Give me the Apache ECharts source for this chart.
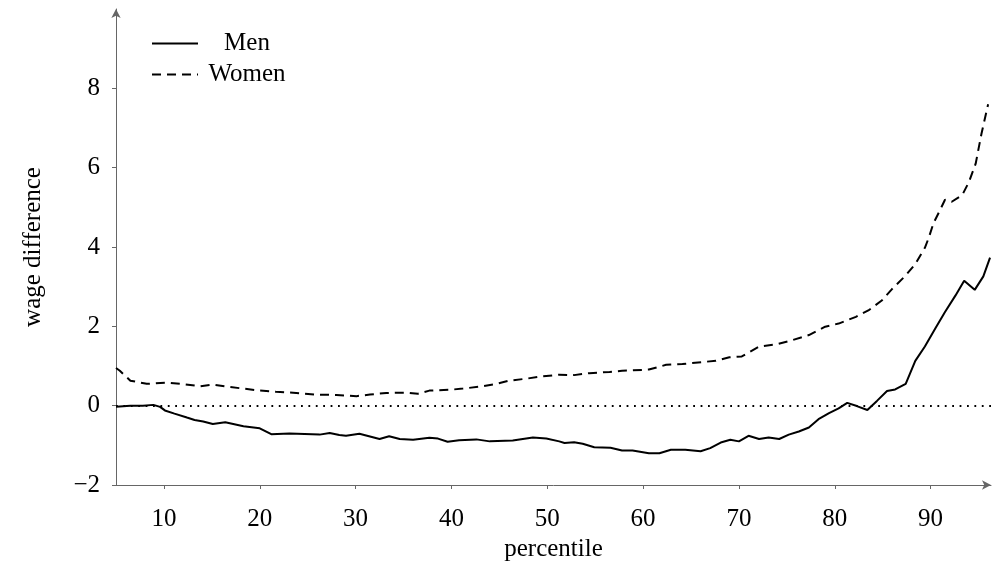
<!DOCTYPE html>
<html>
<head>
<meta charset="utf-8">
<script src="https://cdn.jsdelivr.net/npm/echarts@6/dist/echarts.min.js"></script>
<style>html,body{margin:0;padding:0;background:#fff}#c{width:992px;height:567px}</style>
</head>
<body>
<div id="c"></div>
<script>
// ---- data ----
const xTicks = [10, 20, 30, 40, 50, 60, 70, 80, 90];
const yTicks = [-2, 0, 2, 4, 6, 8];

const menX = [5.0, 6.5, 7.8, 8.9, 9.6, 10.1, 11.1, 12.4, 13.2, 14.1, 15.1, 16.4, 18.3, 20.0, 21.2, 23.1, 26.25, 27.3, 28.3, 29.0,
  30.4, 32.5, 33.5, 34.6, 36.0, 37.7, 38.6, 39.6, 40.8, 42.6, 44.0, 46.4, 48.5, 49.9, 51.25, 51.8, 52.8, 53.7, 54.9, 56.6,
  57.8, 58.9, 60.6, 61.7, 62.9, 64.4, 66.0, 67.0, 68.1, 69.1, 70.0, 71.0, 72.1, 73.1, 74.2, 75.2, 76.25, 77.3, 78.3, 79.4,
  80.4, 81.3, 82.3, 83.4, 84.4, 85.45, 86.3, 87.4, 88.4, 89.4, 90.5, 91.5, 92.6, 93.5, 94.6, 95.5, 96.2];
const menY = [-0.03, 0.0, 0.0, 0.02, -0.03, -0.12, -0.2, -0.3, -0.36, -0.4, -0.46, -0.42, -0.52, -0.57, -0.72, -0.70, -0.73, -0.69, -0.74, -0.76,
  -0.71, -0.84, -0.77, -0.84, -0.86, -0.81, -0.83, -0.91, -0.87, -0.85, -0.9, -0.88, -0.80, -0.83, -0.9, -0.94, -0.92, -0.96, -1.05, -1.06,
  -1.13, -1.13, -1.2, -1.2, -1.11, -1.11, -1.15, -1.07, -0.93, -0.86, -0.9, -0.76, -0.84, -0.8, -0.84, -0.73, -0.65, -0.55, -0.34, -0.19,
  -0.07, 0.07, -0.01, -0.11, 0.12, 0.37, 0.41, 0.55, 1.13, 1.49, 1.95, 2.36, 2.78, 3.15, 2.92, 3.26, 3.73];

const womenX = [5.0, 5.4, 6.5, 8.2, 10.4, 11.7, 13.75, 15.1, 16.5, 18.3, 20.0, 21.7, 23.8, 25.9, 28.0, 30.1, 31.5, 33.2, 35.3, 36.5,
  37.7, 39.8, 41.2, 43.3, 44.7, 46.0, 47.8, 49.5, 51.25, 52.8, 54.4, 56.5, 57.8, 60.6, 62.4, 64.1, 66.2, 67.6, 69.0, 70.3,
  72.1, 74.0, 75.55, 77.3, 79.0, 80.4, 82.2, 83.5, 84.9, 85.97, 87.35, 88.4, 89.4, 89.8, 90.3, 91.0, 91.5, 92.2, 93.3, 94.0,
  94.7, 95.3, 96.0];
const womenY = [0.95, 0.88, 0.63, 0.55, 0.58, 0.55, 0.49, 0.53, 0.48, 0.43, 0.38, 0.35, 0.32, 0.28, 0.27, 0.24, 0.28, 0.32, 0.33, 0.30,
  0.38, 0.40, 0.43, 0.49, 0.55, 0.63, 0.68, 0.74, 0.78, 0.77, 0.82, 0.85, 0.88, 0.91, 1.03, 1.05, 1.1, 1.13, 1.22, 1.24,
  1.49, 1.55, 1.65, 1.78, 1.99, 2.07, 2.24, 2.4, 2.65, 2.94, 3.27, 3.57, 3.98, 4.23, 4.6, 4.94, 5.19, 5.14, 5.31, 5.64,
  6.1, 6.85, 7.6];

const seriesNames = ['Men', 'Women'];
const xName = 'percentile';
const yName = 'wage difference';

// ---- chart ----
const FONT = 'Liberation Serif';
const FS = 25;
const axisColor = '#666';
const chart = echarts.init(document.getElementById('c'), null, {renderer: 'canvas'});
chart.setOption({
  animation: false,
  backgroundColor: '#fff',
  textStyle: {fontFamily: FONT},
  grid: {left: 116, right: 1, top: 9, bottom: 77, containLabel: false},
  legend: {
    orient: 'vertical', left: 146, top: 26, itemWidth: 46, itemHeight: 25, itemGap: 6,
    data: seriesNames,
    itemStyle: {opacity: 0},
    formatter: n => '{t|' + n + '}',
    textStyle: {fontFamily: FONT, fontSize: FS, color: '#000',
      rich: {t: {fontFamily: FONT, fontSize: FS, color: '#000', width: 88, align: 'center'}}}
  },
  xAxis: {
    type: 'value', min: 5, max: 96.3,
    name: xName, nameLocation: 'middle', nameGap: 52,
    nameTextStyle: {fontFamily: FONT, fontSize: FS, color: '#000'},
    axisLine: {show: true, onZero: false, symbol: ['none', 'arrow'], symbolSize: [7, 9], lineStyle: {color: axisColor, width: 1}},
    axisTick: {show: true, length: 4, customValues: xTicks, lineStyle: {color: axisColor}},
    axisLabel: {customValues: xTicks, fontFamily: FONT, fontSize: FS, color: '#000', margin: 22},
    splitLine: {show: false}
  },
  yAxis: {
    type: 'value', min: -2, max: 10,
    name: yName, nameLocation: 'middle', nameGap: 70, nameRotate: 90,
    nameTextStyle: {fontFamily: FONT, fontSize: FS, color: '#000'},
    axisLine: {show: true, onZero: false, symbol: ['none', 'arrow'], symbolSize: [7, 9], lineStyle: {color: axisColor, width: 1}},
    axisTick: {show: true, length: 4, customValues: yTicks, lineStyle: {color: axisColor}},
    axisLabel: {customValues: yTicks, fontFamily: FONT, fontSize: FS, color: '#000', margin: 16,
      formatter: v => (v < 0 ? '\u2212' + Math.abs(v) : String(v))},
    splitLine: {show: false}
  },
  series: [
    {
      name: seriesNames[0], type: 'line', showSymbol: false, symbol: 'none',
      data: menX.map((x, i) => [x, menY[i]]),
      lineStyle: {color: '#000', width: 2, type: 'solid'},
      itemStyle: {color: '#000'},
      markLine: {
        silent: true, symbol: 'none', label: {show: false},
        lineStyle: {color: '#000', width: 2, type: [1.8, 5.6], cap: 'butt'},
        data: [{yAxis: 0}]
      },
      z: 3
    },
    {
      name: seriesNames[1], type: 'line', showSymbol: false, symbol: 'none',
      data: womenX.map((x, i) => [x, womenY[i]]),
      lineStyle: {color: '#000', width: 2, type: [9, 6]},
      itemStyle: {color: '#000'},
      z: 3
    }
  ]
});
</script>
</body>
</html>
